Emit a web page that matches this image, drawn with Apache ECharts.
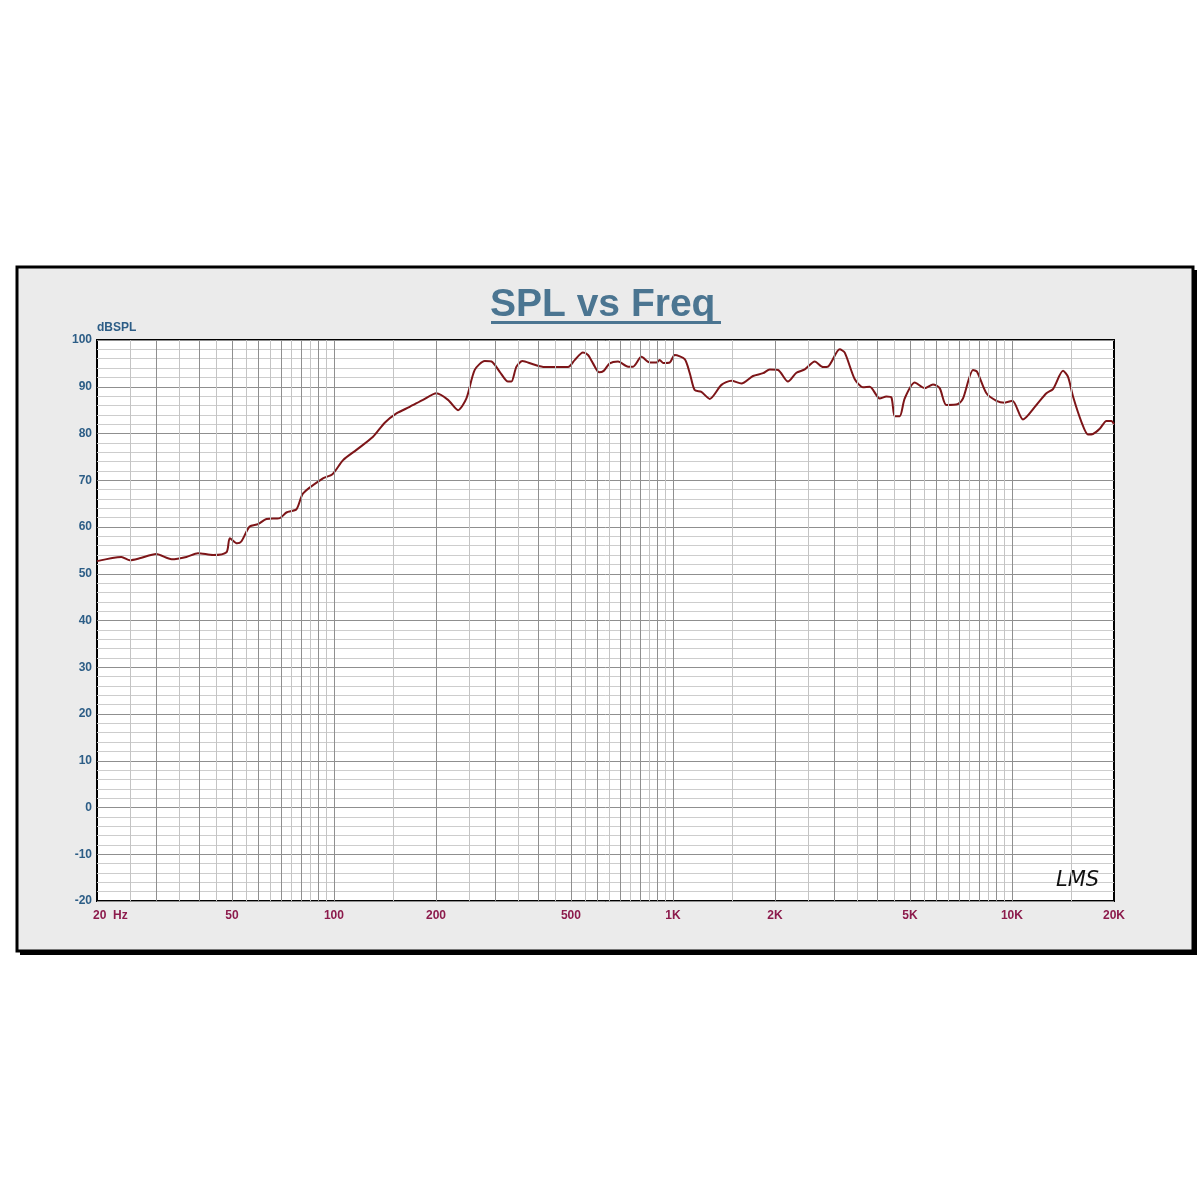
<!DOCTYPE html>
<html>
<head>
<meta charset="utf-8">
<script src="https://cdn.jsdelivr.net/npm/echarts@6/dist/echarts.min.js"></script>
<style>html,body{margin:0;padding:0;background:#fff}#c{width:1200px;height:1200px}</style>
</head>
<body>
<div id="c"></div>
<script>
const freqHz = [20, 23.6, 25, 26.7, 29.9, 33.2, 36.7, 39.7, 44, 48.2, 49.3, 51.8, 53.3, 56.4, 59.7, 63.2, 69.2, 72.4, 77.5, 81.1, 92.8, 99, 106.4, 116.5, 130.4, 141.2, 152.9, 167.3, 183.1, 200.6, 217, 232.3, 245.9, 260.2, 278.5, 291.5, 308.3, 326.2, 333.8, 345.4, 359.7, 386.5, 418.5, 490.2, 513, 542.7, 561.6, 581, 605, 624.8, 650.8, 688.6, 737.3, 762.5, 807.2, 854.2, 893.9, 914.2, 934.9, 978.4, 1012, 1083, 1121, 1159, 1213, 1284, 1390, 1487, 1592, 1722, 1844, 1930, 2041, 2184, 2313, 2448, 2620, 2772, 2867, 3104, 3212, 3439, 3636, 3806, 4073, 4263, 4410, 4510, 4666, 4827, 5166, 5529, 5848, 6120, 6406, 6934, 7173, 7678, 7890, 8408, 9000, 9522, 10032, 10780, 11806, 12636, 13216, 14148, 14636, 15142, 16028, 16760, 17340, 18150, 19000, 19650, 20000];
const splDb = [52.7, 53.6, 52.9, 53.3, 54.2, 53.1, 53.6, 54.4, 54.0, 54.6, 57.6, 56.5, 56.9, 60.1, 60.6, 61.7, 61.9, 63.1, 63.8, 67.2, 70.4, 71.3, 74.3, 76.5, 79.3, 82.3, 84.3, 85.7, 87.2, 88.6, 87.2, 85.0, 87.5, 93.6, 95.5, 95.4, 93.2, 91.1, 91.1, 94.3, 95.5, 94.8, 94.2, 94.2, 95.7, 97.3, 96.8, 95.0, 93.1, 93.4, 95.0, 95.4, 94.3, 94.3, 96.4, 95.2, 95.2, 95.7, 95.1, 95.2, 96.8, 95.9, 92.9, 89.3, 88.9, 87.4, 90.4, 91.3, 90.7, 92.3, 92.9, 93.7, 93.6, 91.1, 93.0, 93.7, 95.4, 94.2, 94.3, 98.0, 97.3, 91.6, 89.9, 90.0, 87.5, 87.9, 87.7, 83.7, 83.7, 87.5, 90.9, 89.7, 90.5, 89.7, 86.1, 86.3, 87.5, 93.6, 93.2, 88.6, 87.0, 86.6, 87.0, 83.0, 86.1, 88.6, 89.5, 93.4, 92.1, 87.9, 82.5, 79.8, 79.9, 81.0, 82.7, 82.7, 82.0];
const xTickHz = [20, 50, 100, 200, 500, 1000, 2000, 5000, 10000, 20000];
const xTickLabels = ['20  Hz', '50', '100', '200', '500', '1K', '2K', '5K', '10K', '20K'];
const gridMajorHz = [30, 40, 50, 60, 70, 80, 90, 100, 200, 300, 400, 500, 600, 700, 800, 900, 1000, 2000, 3000, 4000, 5000, 6000, 7000, 8000, 9000, 10000];
const gridMinorHz = [25, 35, 45, 55, 65, 75, 85, 95, 150, 250, 350, 450, 550, 650, 750, 850, 950, 1500, 2500, 3500, 4500, 5500, 6500, 7500, 8500, 9500, 15000];
const chartTitle = 'SPL vs Freq';
const yName = 'dBSPL';

const titleColor = '#4b7591';
const yLabelColor = '#2c5d86';
const xLabelColor = '#8c1b4c';
const lineColor = '#7d1518';
const fontFam = '"Liberation Sans", Arial, sans-serif';

const chart = echarts.init(document.getElementById('c'), null, {renderer: 'canvas'});
chart.setOption({
  backgroundColor: '#ffffff',
  animation: false,
  graphic: [
    {type: 'rect', z: -10, shape: {x: 20, y: 270, width: 1177, height: 685}, style: {fill: '#000'}},
    {type: 'rect', z: -9, shape: {x: 17, y: 267, width: 1176, height: 684}, style: {fill: '#ebebeb', stroke: '#000', lineWidth: 3}},
    {type: 'rect', z: 5, shape: {x: 491, y: 321, width: 230, height: 3}, style: {fill: titleColor}},
    {type: 'text', z: 5, left: 1056, top: 870, style: {text: 'LMS', font: 'italic 21px "DejaVu Sans"', fill: '#111'}}
  ],
  title: {
    text: chartTitle, left: 490, top: 286, padding: 0,
    textStyle: {fontFamily: fontFam, fontSize: 39, fontWeight: 'bold', color: titleColor}
  },
  grid: {left: 97, top: 340, width: 1017, height: 561, show: true, backgroundColor: '#fff', borderColor: '#000', borderWidth: 2},
  xAxis: {
    type: 'log', logBase: 10, min: 20, max: 20000,
    axisLine: {show: false}, axisTick: {show: false}, axisLabel: {show: false}, splitLine: {show: false}
  },
  yAxis: {
    type: 'value', min: -20, max: 100, interval: 10,
    name: yName, nameLocation: 'end', nameGap: 6,
    nameTextStyle: {align: 'left', verticalAlign: 'bottom', color: yLabelColor, fontWeight: 'bold', fontSize: 12, fontFamily: fontFam},
    axisLine: {show: false}, axisTick: {show: false},
    axisLabel: {color: yLabelColor, fontWeight: 'bold', fontSize: 12, margin: 5, fontFamily: fontFam},
    splitLine: {show: true, lineStyle: {color: '#8f8f8f', width: 1}},
    minorTick: {show: false, splitNumber: 5},
    minorSplitLine: {show: true, lineStyle: {color: '#cdcdcd', width: 1}}
  },
  series: [
    {
      type: 'line', data: [], silent: true, z: 1,
      markLine: {
        silent: true, symbol: ['none', 'none'], animation: false,
        label: {show: false},
        lineStyle: {color: '#c4c4c4', width: 1, type: 'solid'},
        emphasis: {disabled: true},
        data: gridMinorHz.map(v => ({xAxis: v}))
      }
    },
    {
      type: 'line', data: [], silent: true, z: 1,
      markLine: {
        silent: true, symbol: ['none', 'none'], animation: false,
        label: {show: false},
        lineStyle: {color: '#8f8f8f', width: 1, type: 'solid'},
        emphasis: {disabled: true},
        data: gridMajorHz.map(v => ({xAxis: v}))
      }
    },
    {
      type: 'line', data: [], silent: true, z: 4,
      markLine: {
        silent: true, symbol: ['none', 'none'], animation: false,
        lineStyle: {color: 'rgba(0,0,0,0)', width: 1},
        emphasis: {disabled: true},
        label: {show: true, position: 'start', distance: 9, color: xLabelColor, fontWeight: 'bold', fontSize: 12, fontFamily: fontFam},
        data: xTickHz.map((v, i) => i === 0
          ? {xAxis: v, label: {formatter: xTickLabels[i], align: 'left', offset: [-4, 0]}}
          : {xAxis: v, label: {formatter: xTickLabels[i]}})
      }
    },
    {
      type: 'line', z: 3, showSymbol: false, symbol: 'none', smooth: 0.25,
      lineStyle: {color: lineColor, width: 2},
      data: freqHz.map((f, i) => [f, splDb[i]])
    }
  ]
});
</script>
</body>
</html>
